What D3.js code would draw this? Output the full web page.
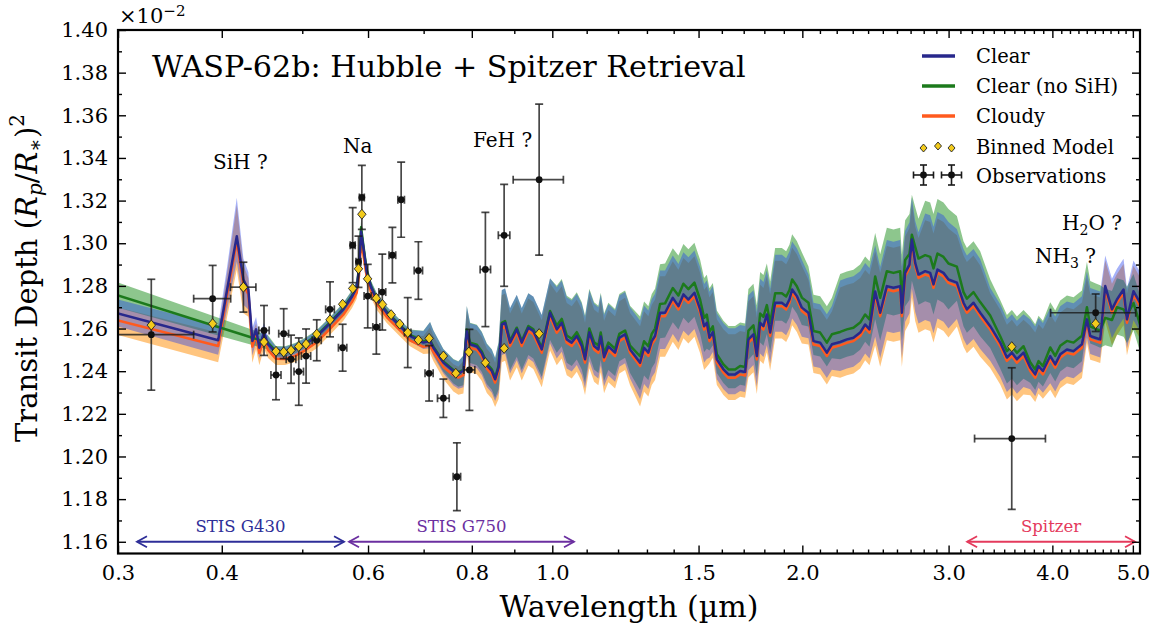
<!DOCTYPE html>
<html><head><meta charset="utf-8">
<script src="https://cdn.jsdelivr.net/npm/d3@7"></script>
<style>
body{margin:0;background:#fff}
svg{display:block}
text{font-family:"DejaVu Serif",serif;fill:#000}
</style>
</head><body>
<svg id="chart" width="1158" height="629"></svg>
<script>
// ---------------- DATA ----------------
const modelWl = [
0.300,0.396,0.406,0.417,0.4247,0.4306,0.4354,0.4399,0.4439,0.4497,
0.4547,0.4649,0.4767,0.4901,0.5039,0.5205,0.5400,0.5603,0.5740,0.5815,
0.5852,0.5885,0.5923,0.5979,0.6051,0.6147,0.6320,0.6557,0.6741,0.6995,
0.7126,0.7191,0.7394,0.7602,0.7708,0.7816,0.7890,0.7962,0.8112,0.8225,
0.8340,0.8456,0.8534,0.8617,0.8694,0.8773,0.8895,0.9062,0.9188,0.9358,
0.9488,0.9712,0.9938,1.0124,1.0265,1.0409,1.0554,1.0702,1.0851,1.0950,
1.1082,1.1228,1.1362,1.1438,1.1543,1.1682,1.1901,1.2043,1.2235,1.2406,
1.2755,1.2897,1.3051,1.3175,1.3296,1.3482,1.3670,1.3966,1.4185,1.4383,
1.4584,1.4829,1.5065,1.5233,1.5348,1.5459,1.5605,1.5779,1.6070,1.6295,
1.6600,1.6832,1.7067,1.7224,1.7465,1.7630,1.7793,1.7956,1.8126,1.8293,
1.8548,1.8896,1.9123,1.9298,1.9443,1.9698,1.9973,2.0343,2.0627,2.1013,
2.1407,2.1706,2.2212,2.2628,2.3046,2.3478,2.3806,2.4092,2.4476,2.4817,
2.5282,2.5749,2.6232,2.6356,2.6598,2.6917,2.7097,2.7346,2.7598,2.8115,
2.8508,2.8770,2.9090,2.9579,2.9991,3.0697,3.1265,3.1561,3.2144,3.2747,
3.3668,3.4615,3.5264,3.5756,3.6256,3.6926,3.7618,3.8144,3.8495,3.8967,
3.9765,4.0319,4.0883,4.1649,4.2419,4.3417,4.4023,4.4428,4.5049,4.5678,
4.6316,4.7184,4.7843,4.8726,4.9188,5.0083,5.1000];

const clearModel = [
1.2671,1.2545,1.2783,1.3033,1.2830,1.2783,1.2541,1.2596,1.2510,1.2582,
1.2526,1.2488,1.2487,1.2502,1.2526,1.2563,1.2624,1.2690,1.2750,1.2793,
1.2877,1.3055,1.2980,1.2863,1.2793,1.2736,1.2674,1.2611,1.2565,1.2534,
1.2541,1.2510,1.2440,1.2401,1.2390,1.2401,1.2587,1.2526,1.2516,1.2484,
1.2428,1.2401,1.2362,1.2418,1.2619,1.2627,1.2534,1.2596,1.2534,1.2604,
1.2588,1.2502,1.2674,1.2596,1.2627,1.2549,1.2534,1.2565,1.2518,1.2456,
1.2582,1.2518,1.2502,1.2563,1.2465,1.2516,1.2487,1.2557,1.2573,1.2502,
1.2440,1.2510,1.2487,1.2541,1.2565,1.2674,1.2674,1.2744,1.2705,1.2760,
1.2736,1.2768,1.2690,1.2611,1.2627,1.2557,1.2583,1.2456,1.2409,1.2385,
1.2385,1.2401,1.2396,1.2549,1.2573,1.2471,1.2627,1.2611,1.2666,1.2581,
1.2721,1.2721,1.2705,1.2736,1.2783,1.2752,1.2698,1.2674,1.2541,1.2534,
1.2487,1.2526,1.2537,1.2549,1.2557,1.2581,1.2619,1.2596,1.2774,1.2674,
1.2799,1.2791,1.2799,1.2674,1.2861,1.2900,1.3017,1.2908,1.2853,1.2869,
1.2861,1.2807,1.2877,1.2861,1.2830,1.2815,1.2721,1.2690,1.2721,1.2674,
1.2611,1.2534,1.2464,1.2487,1.2456,1.2487,1.2417,1.2385,1.2424,1.2401,
1.2471,1.2432,1.2479,1.2502,1.2494,1.2526,1.2643,1.2565,1.2557,1.2549,
1.2799,1.2690,1.2736,1.2783,1.2643,1.2775,1.2721];

const noSiHModel = [
1.2755,null,null,null,null,null,null,null,null,null,
1.2534,1.2493,1.2492,1.2507,1.2531,1.2568,1.2629,1.2695,1.2755,1.2798,
1.2885,1.3075,1.2990,1.2870,1.2798,1.2741,1.2679,1.2616,1.2570,1.2539,
1.2546,1.2515,1.2445,1.2406,1.2395,1.2406,1.2595,1.2534,1.2524,1.2492,
1.2436,1.2409,1.2370,1.2426,1.2627,1.2635,1.2542,1.2604,1.2542,1.2612,
1.2596,1.2510,1.2682,1.2614,1.2645,1.2567,1.2552,1.2583,1.2536,1.2474,
1.2600,1.2536,1.2520,1.2581,1.2483,1.2534,1.2505,1.2575,1.2591,1.2520,
1.2470,1.2540,1.2517,1.2575,1.2600,1.2715,1.2718,1.2790,1.2755,1.2810,
1.2785,1.2815,1.2735,1.2650,1.2665,1.2585,1.2610,1.2480,1.2432,1.2408,
1.2408,1.2424,1.2420,1.2590,1.2615,1.2512,1.2670,1.2655,1.2710,1.2625,
1.2765,1.2765,1.2750,1.2780,1.2830,1.2798,1.2745,1.2721,1.2588,1.2581,
1.2534,1.2573,1.2584,1.2596,1.2604,1.2628,1.2666,1.2643,1.2844,1.2744,
1.2869,1.2861,1.2869,1.2744,1.2921,1.2950,1.3040,1.2983,1.2928,1.2944,
1.2936,1.2882,1.2952,1.2936,1.2905,1.2890,1.2771,1.2740,1.2771,1.2724,
1.2661,1.2564,1.2494,1.2517,1.2486,1.2517,1.2442,1.2408,1.2447,1.2424,
1.2511,1.2472,1.2519,1.2542,1.2534,1.2566,1.2700,1.2610,1.2600,1.2590,
1.2650,1.2640,1.2700,1.2690,1.2660,1.2720,1.2620];

const cloudyModel = [
1.2638,1.2518,1.2760,1.3009,1.2805,1.2760,1.2515,1.2570,1.2485,1.2555,
1.2500,1.2458,1.2457,1.2472,1.2498,1.2536,1.2599,1.2665,1.2725,1.2768,
1.2850,1.3000,1.2950,1.2840,1.2773,1.2716,1.2654,1.2591,1.2545,1.2514,
1.2521,1.2490,1.2420,1.2381,1.2370,1.2381,1.2571,1.2510,1.2500,1.2468,
1.2412,1.2385,1.2346,1.2402,1.2603,1.2611,1.2518,1.2580,1.2518,1.2588,
1.2572,1.2486,1.2658,1.2580,1.2611,1.2533,1.2518,1.2549,1.2502,1.2440,
1.2566,1.2502,1.2486,1.2547,1.2449,1.2500,1.2471,1.2541,1.2557,1.2486,
1.2424,1.2494,1.2471,1.2525,1.2549,1.2658,1.2658,1.2728,1.2689,1.2744,
1.2720,1.2752,1.2674,1.2595,1.2611,1.2541,1.2567,1.2440,1.2393,1.2369,
1.2369,1.2385,1.2380,1.2533,1.2557,1.2455,1.2611,1.2595,1.2650,1.2565,
1.2705,1.2705,1.2689,1.2720,1.2767,1.2736,1.2682,1.2658,1.2525,1.2518,
1.2471,1.2510,1.2521,1.2533,1.2541,1.2565,1.2603,1.2580,1.2758,1.2658,
1.2783,1.2775,1.2783,1.2658,1.2845,1.2884,1.3001,1.2892,1.2837,1.2853,
1.2845,1.2791,1.2861,1.2845,1.2814,1.2799,1.2705,1.2674,1.2705,1.2658,
1.2595,1.2518,1.2448,1.2471,1.2440,1.2471,1.2401,1.2369,1.2408,1.2385,
1.2455,1.2416,1.2463,1.2486,1.2478,1.2510,1.2627,1.2549,1.2541,1.2533,
1.2783,1.2674,1.2720,1.2767,1.2627,1.2759,1.2705];

// 1-sigma spread of the retrieved spectra (above / below)
const bandUp = [
.0072,.0075,.0120,.0200,.0110,.0090,.0070,.0065,.0060,.0050,
.0040,.0030,.0030,.0030,.0030,.0030,.0030,.0030,.0030,.0030,
.0040,.0040,.0040,.0040,.0030,.0030,.0030,.0030,.0030,.0060,
.0100,.0090,.0070,.0060,.0060,.0080,.0130,.0110,.0110,.0110,
.0110,.0110,.0110,.0130,.0180,.0180,.0180,.0180,.0180,.0180,
.0180,.0180,.0180,.0220,.0220,.0220,.0220,.0220,.0220,.0220,
.0220,.0220,.0220,.0220,.0220,.0220,.0220,.0220,.0220,.0220,
.0220,.0220,.0220,.0220,.0220,.0220,.0220,.0220,.0220,.0220,
.0220,.0220,.0220,.0220,.0220,.0240,.0240,.0240,.0240,.0240,
.0240,.0240,.0240,.0230,.0230,.0230,.0230,.0230,.0230,.0230,
.0250,.0250,.0250,.0250,.0250,.0250,.0250,.0200,.0200,.0200,
.0200,.0200,.0320,.0320,.0320,.0320,.0320,.0320,.0240,.0240,
.0240,.0240,.0240,.0240,.0220,.0220,.0220,.0220,.0220,.0300,
.0300,.0300,.0300,.0300,.0300,.0280,.0280,.0280,.0280,.0280,
.0200,.0200,.0200,.0200,.0200,.0200,.0250,.0250,.0250,.0250,
.0250,.0250,.0250,.0250,.0250,.0250,.0250,.0250,.0250,.0250,
.0160,.0160,.0160,.0160,.0160,.0160,.0160];
const bandDown = [
.0072,.0080,.0110,.0140,.0140,.0110,.0080,.0070,.0060,.0050,
.0040,.0030,.0030,.0030,.0030,.0030,.0030,.0030,.0030,.0030,
.0040,.0040,.0040,.0040,.0030,.0030,.0030,.0030,.0030,.0035,
.0040,.0045,.0060,.0080,.0085,.0090,.0100,.0120,.0120,.0120,
.0120,.0120,.0120,.0140,.0170,.0170,.0170,.0170,.0170,.0170,
.0170,.0170,.0170,.0160,.0160,.0160,.0160,.0160,.0160,.0160,
.0160,.0160,.0160,.0160,.0160,.0160,.0160,.0160,.0160,.0160,
.0200,.0200,.0200,.0200,.0200,.0200,.0200,.0200,.0200,.0200,
.0200,.0200,.0200,.0200,.0200,.0110,.0110,.0110,.0110,.0110,
.0110,.0110,.0110,.0170,.0170,.0170,.0170,.0170,.0170,.0170,
.0160,.0160,.0160,.0160,.0160,.0160,.0160,.0140,.0140,.0140,
.0140,.0140,.0160,.0160,.0160,.0160,.0160,.0160,.0250,.0250,
.0250,.0250,.0250,.0250,.0270,.0270,.0270,.0270,.0270,.0270,
.0270,.0270,.0270,.0270,.0270,.0200,.0200,.0200,.0200,.0200,
.0190,.0190,.0190,.0190,.0190,.0190,.0120,.0120,.0120,.0120,
.0150,.0150,.0150,.0150,.0150,.0150,.0100,.0100,.0100,.0100,
.0160,.0160,.0160,.0160,.0160,.0160,.0160];

const obsWl = [0.329,0.390,0.4247,0.4497,0.4649,0.4749,0.4847,0.4952,0.5053,0.5205,
  0.540,0.5592,0.575,0.5843,0.5898,0.5995,0.614,0.6242,0.6419,0.6577,
  0.6698,0.6899,0.7107,0.7394,0.7676,0.7947,0.8307,0.875,0.9642,3.574,4.51];
const obsDepth = [1.2571,1.2740,1.2794,1.2591,1.2382,1.2576,1.2456,1.2398,1.2471,1.2545,
  1.2690,1.2510,1.2991,1.2913,1.3215,1.2752,1.2607,1.2771,1.2944,1.3204,
  1.2581,1.2872,1.2390,1.2273,1.1905,1.2406,1.2877,1.3037,1.3298,1.2084,1.2674];
const obsErr = [0.0260,0.0156,0.0117,0.0117,0.0116,0.0117,0.0113,0.0158,0.0127,0.0096,
  0.0129,0.0110,0.0176,0.0120,0.0150,0.0149,0.0127,0.0178,0.0130,0.0176,
  0.0164,0.0135,0.0130,0.0090,0.0159,0.0190,0.0268,0.0239,0.0354,0.0332,0.0088];
const obsWlErr = [0.041,0.020,0.015,0.0065,0.0065,0.0065,0.0065,0.0065,0.0065,0.0065,
  0.0065,0.0065,0.004,0.004,0.004,0.006,0.006,0.006,0.006,0.006,
  0.006,0.008,0.008,0.012,0.008,0.012,0.012,0.014,0.067,0.35,0.53];

const binWl = [0.329,0.390,0.4247,0.4497,0.4649,0.4749,0.4847,0.4952,0.5053,0.5205,
  0.540,0.5592,0.575,0.5843,0.5898,0.5993,0.6139,0.6245,0.6397,0.6551,
  0.6698,0.6899,0.7107,0.7394,0.7653,0.7935,0.8307,0.875,0.9642,3.574,4.51];
const binDepth = [1.2616,1.2623,1.2794,1.2537,1.2493,1.2490,1.2498,1.2516,1.2527,1.2574,
  1.2641,1.2714,1.2788,1.2880,1.3136,1.2833,1.2742,1.2713,1.2665,1.2621,
  1.2581,1.2546,1.2554,1.2471,1.2390,1.2490,1.2440,1.2507,1.2576,1.2515,1.2623];

const xMajorTicks = [0.3,0.4,0.6,0.8,1.0,1.5,2.0,3.0,4.0,5.0];
const xMinorTicks = [0.5,0.7,0.9,1.1,1.2,1.3,1.4,1.6,1.7,1.8,1.9,2.1,2.2,2.3,2.4,2.5,2.6,2.7,2.8,2.9,
  3.1,3.2,3.3,3.4,3.5,3.6,3.7,3.8,3.9,4.1,4.2,4.3,4.4,4.5,4.6,4.7,4.8,4.9];
const yMajorTicks = [1.16,1.18,1.20,1.22,1.24,1.26,1.28,1.30,1.32,1.34,1.36,1.38,1.40];
const yMinorTicks = [1.17,1.19,1.21,1.23,1.25,1.27,1.29,1.31,1.33,1.35,1.37,1.39];

const legendLabels = ["Clear","Clear (no SiH)","Cloudy","Binned Model","Observations"];
const instrumentNames = ["STIS G430","STIS G750","Spitzer"];
const instrumentStart = [0.3162,0.5692,3.158];
const instrumentEnd = [0.5614,1.062,5.03];

// ---------------- LAYOUT / STYLE ----------------
const L = 118, R = 1140, T = 30, B = 553.5;
const svg = d3.select("#chart");
const x = d3.scaleLog().domain([0.3, 5.1]).range([L, R]);
const y = d3.scaleLinear().domain([1.1545, 1.40]).range([B, T]);

const col = {
  clear: "#28288c", noSiH: "#1c7a1c", cloudy: "#ff5a1e",
  clearBand: "#1f3bed", noSiHBand: "#1b8d1b", cloudyBand: "#ff8c00"
};

svg.append("defs").append("clipPath").attr("id","plotclip")
  .append("rect").attr("x",L).attr("y",T).attr("width",R-L).attr("height",B-T);

const plot = svg.append("g").attr("clip-path","url(#plotclip)");

function seriesPts(vals, upF, dnF){
  return modelWl.map((w,i)=>({w, v: vals[i], up: bandUp[i]*upF, dn: bandDown[i]*dnF}))
    .filter(d=>d.v!==null);
}
const area = d3.area().x(d=>x(d.w)).y0(d=>y(d.v-d.dn)).y1(d=>y(d.v+d.up));
const line = d3.line().x(d=>x(d.w)).y(d=>y(d.v));

const sClear = seriesPts(clearModel, 0.9, 0.85);
const sNoSiH = seriesPts(noSiHModel, 0.85, 0.8);
const sCloudy = seriesPts(cloudyModel, 0.85, 0.95);

plot.append("path").datum(sCloudy).attr("d",area).attr("fill",col.cloudyBand).attr("fill-opacity",0.5);
plot.append("path").datum(sNoSiH).attr("d",area).attr("fill",col.noSiHBand).attr("fill-opacity",0.5);
plot.append("path").datum(sClear).attr("d",area).attr("fill",col.clearBand).attr("fill-opacity",0.4);

plot.append("path").datum(sCloudy).attr("d",line).attr("fill","none").attr("stroke",col.cloudy).attr("stroke-width",2.5).attr("stroke-linejoin","round");
plot.append("path").datum(sNoSiH).attr("d",line).attr("fill","none").attr("stroke",col.noSiH).attr("stroke-width",2.5).attr("stroke-linejoin","round");
plot.append("path").datum(sClear).attr("d",line).attr("fill","none").attr("stroke",col.clear).attr("stroke-width",2.5).attr("stroke-linejoin","round");

// observations
const obs = obsWl.map((w,i)=>({w, v: obsDepth[i], e: obsErr[i], we: obsWlErr[i]}));
const eb = plot.append("g").attr("stroke","#1a1a1a").attr("stroke-opacity",0.8).attr("stroke-width",1.7);
const cap = 4;
obs.forEach(d=>{
  const cx = x(d.w), cy = y(d.v);
  const x1 = x(d.w - d.we), x2 = x(d.w + d.we);
  const y1 = y(d.v + d.e), y2 = y(d.v - d.e);
  eb.append("line").attr("x1",cx).attr("x2",cx).attr("y1",y1).attr("y2",y2);
  eb.append("line").attr("x1",cx-cap).attr("x2",cx+cap).attr("y1",y1).attr("y2",y1);
  eb.append("line").attr("x1",cx-cap).attr("x2",cx+cap).attr("y1",y2).attr("y2",y2);
  eb.append("line").attr("x1",x1).attr("x2",x2).attr("y1",cy).attr("y2",cy);
  eb.append("line").attr("x1",x1).attr("x2",x1).attr("y1",cy-cap).attr("y2",cy+cap);
  eb.append("line").attr("x1",x2).attr("x2",x2).attr("y1",cy-cap).attr("y2",cy+cap);
});
plot.append("g").selectAll("circle").data(obs).join("circle")
  .attr("cx",d=>x(d.w)).attr("cy",d=>y(d.v)).attr("r",3.4).attr("fill","#111");

// binned model
const diamond = "M0,-5L4.2,0L0,5L-4.2,0Z";
plot.append("g").selectAll("path").data(binWl.map((w,i)=>({w, v: binDepth[i]}))).join("path")
  .attr("d",diamond).attr("transform",d=>`translate(${x(d.w)},${y(d.v)})`)
  .attr("fill","#f3cb1c").attr("stroke","#222").attr("stroke-width",0.9);

// instrument arrows
const instColors = ["#2e2e98","#6b2fa0","#e43a5c"];
const yArrow = y(1.16);
instrumentNames.forEach((name,i)=>{
  const a = x(instrumentStart[i]), b = x(instrumentEnd[i]);
  const g = svg.append("g").attr("stroke",instColors[i]).attr("stroke-width",1.8).attr("fill","none");
  g.append("line").attr("x1",a).attr("x2",b).attr("y1",yArrow).attr("y2",yArrow);
  g.append("path").attr("d",`M${a+10},${yArrow-5.5}L${a},${yArrow}L${a+10},${yArrow+5.5}`);
  g.append("path").attr("d",`M${b-10},${yArrow-5.5}L${b},${yArrow}L${b-10},${yArrow+5.5}`);
  svg.append("text").attr("x",(a+b)/2).attr("y",yArrow-10).attr("text-anchor","middle")
    .attr("font-size",16.5).style("fill",instColors[i]).text(name);
});

// axes
function styleAxis(g){
  g.select(".domain").remove();
  g.selectAll(".tick line").attr("stroke","#000").attr("stroke-width",1.4);
  g.selectAll(".tick text").attr("font-family","DejaVu Serif").attr("font-size",21).style("fill","#000");
}
svg.append("g").attr("transform",`translate(0,${B})`)
  .call(d3.axisBottom(x).tickValues(xMajorTicks).tickFormat(d3.format(".1f")).tickSizeInner(-8).tickSizeOuter(0).tickPadding(12)).call(styleAxis);
svg.append("g").attr("transform",`translate(0,${B})`)
  .call(d3.axisBottom(x).tickValues(xMinorTicks).tickFormat("").tickSizeInner(-4).tickSizeOuter(0)).call(styleAxis);
svg.append("g").attr("transform",`translate(0,${T})`)
  .call(d3.axisTop(x).tickValues(xMajorTicks).tickFormat("").tickSizeInner(-8).tickSizeOuter(0)).call(styleAxis);
svg.append("g").attr("transform",`translate(0,${T})`)
  .call(d3.axisTop(x).tickValues(xMinorTicks).tickFormat("").tickSizeInner(-4).tickSizeOuter(0)).call(styleAxis);
svg.append("g").attr("transform",`translate(${L},0)`)
  .call(d3.axisLeft(y).tickValues(yMajorTicks).tickFormat(d3.format(".2f")).tickSizeInner(-8).tickSizeOuter(0).tickPadding(10)).call(styleAxis);
svg.append("g").attr("transform",`translate(${L},0)`)
  .call(d3.axisLeft(y).tickValues(yMinorTicks).tickFormat("").tickSizeInner(-4).tickSizeOuter(0)).call(styleAxis);
svg.append("g").attr("transform",`translate(${R},0)`)
  .call(d3.axisRight(y).tickValues(yMajorTicks).tickFormat("").tickSizeInner(-8).tickSizeOuter(0)).call(styleAxis);
svg.append("g").attr("transform",`translate(${R},0)`)
  .call(d3.axisRight(y).tickValues(yMinorTicks).tickFormat("").tickSizeInner(-4).tickSizeOuter(0)).call(styleAxis);

svg.append("rect").attr("x",L).attr("y",T).attr("width",R-L).attr("height",B-T)
  .attr("fill","none").attr("stroke","#000").attr("stroke-width",2.2);

// exponent label
const ex = svg.append("text").attr("x",119).attr("y",23).attr("font-size",21);
ex.append("tspan").text("×10");
ex.append("tspan").attr("font-size",15).attr("dy",-7).text("−2");

// axis labels
svg.append("text").attr("x",629).attr("y",617).attr("text-anchor","middle").attr("font-size",30).text("Wavelength (µm)");
const yl = svg.append("text").attr("transform","translate(37,278) rotate(-90)").attr("text-anchor","middle").attr("font-size",29);
yl.append("tspan").text("Transit Depth (");
yl.append("tspan").attr("font-style","italic").text("R");
yl.append("tspan").attr("font-style","italic").attr("font-size",20).attr("dy",5).text("p");
yl.append("tspan").attr("dy",-5).text("/");
yl.append("tspan").attr("font-style","italic").text("R");
yl.append("tspan").attr("font-size",20).attr("dy",5).text("∗");
yl.append("tspan").attr("dy",-5).text(")");
yl.append("tspan").attr("font-size",20).attr("dy",-13).text("2");

// title
svg.append("text").attr("x",152).attr("y",77).attr("font-size",30.2).text("WASP-62b: Hubble + Spitzer Retrieval");

// annotations
function annot(xp, yp, parts){
  const t = svg.append("text").attr("x",xp).attr("y",yp).attr("font-size",20);
  parts.forEach(p=>{
    const s = t.append("tspan").text(p[0]);
    if(p[1]) s.attr("font-size",14).attr("dy",p[1]);
    if(p[2]) s.attr("dy",p[2]);
  });
}
annot(213,169,[["SiH ?"]]);
annot(343,153,[["Na"]]);
annot(473,147,[["FeH ?"]]);
annot(1062,230,[["H"],["2",5],["O ?",null,-5]]);
annot(1035,263,[["NH"],["3",5],[" ?",null,-5]]);

// legend
const lg = svg.append("g");
const legendColors = [col.clear, col.noSiH, col.cloudy];
const rowY = [56,86,116,147,176];
legendLabels.forEach((lab,i)=>{
  lg.append("text").attr("x",976).attr("y",rowY[i]+7).attr("font-size",19.5).text(lab);
});
legendColors.forEach((c,i)=>{
  lg.append("line").attr("x1",922).attr("x2",955).attr("y1",rowY[i]).attr("y2",rowY[i])
    .attr("stroke",c).attr("stroke-width",3.5);
});
[[923.5,148],[938,146],[951.5,148]].forEach(p=>{
  lg.append("path").attr("d","M0,-4L3.5,0L0,4L-3.5,0Z").attr("transform",`translate(${p[0]},${p[1]})`)
    .attr("fill","#f3cb1c").attr("stroke","#222").attr("stroke-width",0.9);
});
[923.5,951.5].forEach(px=>{
  const g = lg.append("g").attr("stroke","#1a1a1a").attr("stroke-width",1.6);
  const py = 175;
  g.append("line").attr("x1",px-10).attr("x2",px+10).attr("y1",py).attr("y2",py);
  g.append("line").attr("x1",px).attr("x2",px).attr("y1",py-10).attr("y2",py+10);
  g.append("line").attr("x1",px-10).attr("x2",px-10).attr("y1",py-3.5).attr("y2",py+3.5);
  g.append("line").attr("x1",px+10).attr("x2",px+10).attr("y1",py-3.5).attr("y2",py+3.5);
  g.append("line").attr("x1",px-3.5).attr("x2",px+3.5).attr("y1",py-10).attr("y2",py-10);
  g.append("line").attr("x1",px-3.5).attr("x2",px+3.5).attr("y1",py+10).attr("y2",py+10);
  lg.append("circle").attr("cx",px).attr("cy",py).attr("r",3.4).attr("fill","#111");
});
</script>
</body></html>
